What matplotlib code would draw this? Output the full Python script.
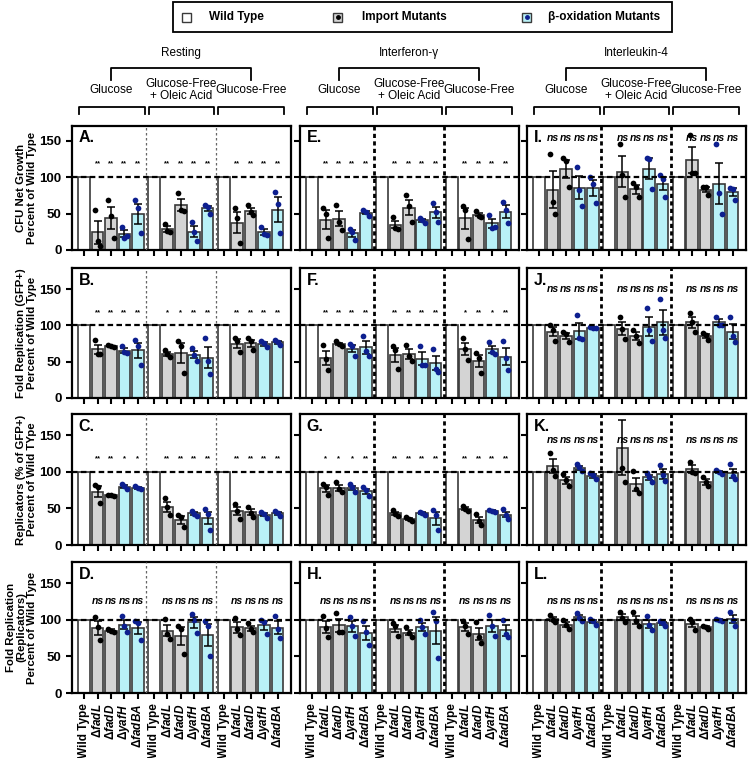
import numpy as np
import matplotlib.pyplot as plt
from matplotlib.patches import Rectangle
from matplotlib.lines import Line2D

plt.rcParams['font.family'] = ['Liberation Sans', 'DejaVu Sans']
plt.rcParams['mathtext.fontset'] = 'custom'
plt.rcParams['mathtext.rm'] = 'Liberation Sans:bold'
plt.rcParams['mathtext.it'] = 'Liberation Sans:italic:bold'
plt.rcParams['mathtext.bf'] = 'Liberation Sans:bold'

# ---- categories ----
activations = ['Resting', 'Interferon-γ', 'Interleukin-4']
media = ['Glucose', 'Glucose-Free\n+ Oleic Acid', 'Glucose-Free']
strain_labels = ['Wild Type', r'$\Delta\mathit{fadL}$', r'$\Delta\mathit{fadD}$',
                 r'$\Delta\mathit{yafH}$', r'$\Delta\mathit{fadBA}$']
row_titles = ['CFU Net Growth\nPercent of Wild Type',
              'Fold Replication (GFP+)\nPercent of Wild Type',
              'Replicators (% of GFP+)\nPercent of Wild TYpe',
              'Fold Replication\n(Replicators)\nPercent of Wild Type']
letters = [['A.', 'E.', 'I.'], ['B.', 'F.', 'J.'], ['C.', 'G.', 'K.'], ['D.', 'H.', 'L.']]
wt_value = 100

# ---- replicate values (% of wild type): [medium][fadL, fadD, yafH, fadBA][replicate] ----
cfu_rest = [[[55, 12, 6], [68, 46, 16], [32, 16, 19], [68, 57, 23]],
            [[36, 26, 24], [78, 55, 53], [39, 25, 12], [62, 59, 50]],
            [[58, 44, 10], [62, 52, 48], [32, 22, 20], [80, 63, 23]]]
cfu_ifng = [[[58, 50, 16], [62, 39, 28], [29, 25, 14], [55, 52, 47]],
            [[45, 30, 29], [75, 60, 39], [44, 41, 37], [65, 52, 39]],
            [[60, 55, 15], [53, 47, 45], [48, 30, 31], [66, 55, 37]]]
cfu_il4 = [[[132, 66, 50], [126, 122, 87], [114, 82, 60], [100, 90, 65]],
           [[146, 103, 73], [92, 86, 72], [126, 125, 84], [103, 97, 73]],
           [[158, 106, 106], [86, 86, 76], [145, 78, 50], [85, 84, 68]]]

gfp_rest = [[[80, 61, 60], [73, 71, 70], [71, 63, 62], [80, 72, 46]],
            [[66, 60, 56], [79, 72, 35], [69, 59, 51], [83, 51, 33]],
            [[83, 78, 64], [82, 78, 66], [78, 76, 70], [80, 77, 73]]]
gfp_ifng = [[[73, 54, 39], [78, 74, 71], [74, 72, 58], [86, 65, 58]],
            [[72, 66, 40], [73, 58, 51], [72, 46, 45], [67, 40, 36]],
            [[82, 68, 52], [62, 55, 35], [77, 64, 61], [78, 55, 38]]]
gfp_il4 = [[[101, 94, 79], [91, 88, 77], [114, 82, 81], [98, 97, 96]],
           [[111, 95, 81], [94, 86, 76], [124, 93, 78], [137, 93, 82]],
           [[117, 104, 91], [89, 87, 80], [112, 101, 100], [111, 85, 77]]]

rep_rest = [[[82, 79, 58], [69, 68, 67], [83, 80, 76], [81, 78, 76]],
            [[64, 52, 41], [41, 38, 24], [47, 43, 40], [49, 42, 21]],
            [[56, 47, 36], [52, 44, 38], [45, 42, 37], [46, 44, 40]]]
rep_ifng = [[[84, 79, 69], [86, 76, 73], [83, 79, 73], [79, 75, 67]],
            [[48, 42, 40], [38, 36, 33], [45, 44, 41], [48, 41, 20]],
            [[53, 49, 46], [42, 33, 28], [48, 47, 45], [49, 41, 35]]]
rep_il4 = [[[126, 103, 94], [97, 89, 80], [110, 106, 101], [99, 95, 90]],
           [[208, 105, 86], [101, 77, 71], [98, 93, 86], [109, 95, 87]],
           [[114, 100, 98], [93, 86, 80], [102, 100, 97], [110, 94, 90]]]

fold_rest = [[[104, 90, 72], [88, 85, 83], [105, 92, 83], [99, 95, 72]],
             [[101, 81, 74], [91, 88, 53], [108, 100, 82], [98, 91, 50]],
             [[103, 87, 79], [95, 88, 83], [100, 97, 80], [105, 87, 75]]]
fold_ifng = [[[105, 89, 76], [109, 84, 84], [104, 91, 78], [99, 83, 65]],
             [[95, 91, 78], [90, 82, 76], [100, 90, 81], [110, 98, 48]],
             [[98, 92, 80], [97, 76, 69], [106, 91, 78], [100, 80, 77]]]
fold_il4 = [[[106, 100, 97], [100, 93, 87], [109, 103, 99], [101, 99, 93]],
            [[111, 103, 97], [110, 98, 92], [105, 93, 86], [99, 95, 92]],
            [[101, 97, 86], [92, 90, 88], [101, 100, 99], [111, 100, 92]]]

# ---- significance vs wild type ----
NS = ['ns ns ns ns'] * 3
sig_cfu = [['** ** ** **'] * 3, ['** ** ** **'] * 3, NS]
sig_gfp = [['** ** ** **', '* * ** **', '** ** ** **'],
           ['** ** ** **', '** ** ** **', '* ** * **'], NS]
sig_rep = [['** ** * *', '** ** ** **', '** ** ** **'],
           ['* * * **', '** ** ** **', '** ** ** **'], NS]
sig_fold = [NS, NS, NS]

panels = [[cfu_rest, cfu_ifng, cfu_il4],
          [gfp_rest, gfp_ifng, gfp_il4],
          [rep_rest, rep_ifng, rep_il4],
          [fold_rest, fold_ifng, fold_il4]]
sigs = [sig_cfu, sig_gfp, sig_rep, sig_fold]

# ---- style ----
W, H = 750, 758
col_left = [72, 300, 527]
col_w = 219
row_top = [126, 268, 414, 562]
row_bot = [250, 398, 545, 693]
ymax = [170, 179, 179, 179]
ns_y = [[None, None, 153], [None, None, 150], [None, None, 143], [126, 126, 126]]
star_y = 118
gap = 5.2
bw = 0.86
c_wt, c_imp, c_box = 'white', '#d4d4d4', '#b9f1f7'
dot_imp, dot_box = 'black', '#0d1f8f'
edge = '#3a3a3a'
offs = np.array([-0.2, 0.0, 0.2])

fig = plt.figure(figsize=(7.5, 7.58), dpi=100)
top_axes = []

for r in range(4):
    for c in range(3):
        ax = fig.add_axes([col_left[c] / W, 1 - row_bot[r] / H, col_w / W,
                           (row_bot[r] - row_top[r]) / H])
        data = panels[r][c]
        xt = []
        for g in range(3):
            base = g * gap
            ax.bar(base, wt_value, width=bw, color=c_wt, edgecolor=edge, lw=1.2, zorder=2)
            xt.append(base)
            sig = sigs[r][c][g].split()
            for k in range(4):
                pts = np.array(data[g][k], dtype=float)
                m = pts.mean()
                se = pts.std(ddof=1) / np.sqrt(len(pts))
                x = base + k + 1
                xt.append(x)
                ax.bar(x, m, width=bw, color=c_imp if k < 2 else c_box,
                       edgecolor=edge, lw=1.2, zorder=2)
                ax.errorbar(x, m, yerr=se, fmt='none', ecolor='black', elinewidth=1.1,
                            capsize=3, capthick=1.1, zorder=3)
                ax.scatter(x + offs, pts, s=17, color=dot_imp if k < 2 else dot_box,
                           zorder=4, linewidths=0)
                if sig[k] == 'ns':
                    ax.text(x, ns_y[r][c], 'ns', ha='center', va='center', fontsize=7.5,
                            style='italic', fontweight='bold', zorder=6)
                else:
                    ax.text(x, star_y, sig[k], ha='center', va='center', fontsize=5.5,
                            fontweight='bold', zorder=6)
            if g > 0:
                if c == 0:
                    ax.axvline(base - 0.6, color='#666666', lw=0.9, ls=(0, (2, 2)), zorder=5)
                else:
                    ax.axvline(base - 0.6, color='black', lw=2.0, ls=(0, (1.5, 1.2)), zorder=5)
        ax.axhline(100, color='black', lw=1.6, ls=(0, (2.5, 1.5)), zorder=5)

        ax.set_xlim(-0.9, 15.4)
        ax.set_ylim(0, ymax[r])
        ax.set_yticks([0, 50, 100, 150])
        ax.set_xticks(xt)
        for s in ax.spines.values():
            s.set_linewidth(1.6)
        ax.tick_params(direction='out', length=4, width=1.5)
        if c == 0:
            ax.set_yticklabels(['0', '50', '100', '150'], fontsize=9.5, fontweight='bold')
            ax.set_ylabel(row_titles[r], fontsize=8.2, fontweight='bold', labelpad=2,
                          linespacing=1.05)
        else:
            ax.set_yticklabels([])
        if r == 3:
            ax.set_xticklabels(strain_labels * 3, rotation=90, fontsize=8.5,
                               fontweight='bold')
        else:
            ax.set_xticklabels([])
        ax.text(0.03, 0.965, letters[r][c], transform=ax.transAxes, fontsize=11.5,
                fontweight='bold', va='top', ha='left', zorder=7)
        if r == 0:
            top_axes.append(ax)

# ---- header brackets ----
inv = fig.transFigure.inverted()


def fx(ax, x):
    return inv.transform(ax.transData.transform((x, 0)))[0]


def fy(py):
    return 1 - py / H


def hline(x0, x1, y0, y1):
    fig.add_artist(Line2D([x0, x0, x1, x1], [fy(y1), fy(y0), fy(y0), fy(y1)],
                          color='black', lw=1.3, transform=fig.transFigure))


for c, ax in enumerate(top_axes):
    centers = [fx(ax, g * gap + 2) for g in range(3)]
    hline(centers[0], centers[2], 68, 80)
    fig.text(centers[1], fy(53), activations[c], ha='center', va='center', fontsize=8.5)
    for g in range(3):
        fig.text(centers[g], fy(90), media[g], ha='center', va='center', fontsize=8.5,
                 linespacing=1.0)
        hline(fx(ax, g * gap - 0.4), fx(ax, g * gap + 4.5), 107, 114)

# ---- legend ----
fig.add_artist(Rectangle((173 / W, fy(32)), (672 - 173) / W, 30 / H, fill=False,
                         edgecolor='black', lw=1.3, transform=fig.transFigure))
legend_items = [('Wild Type', c_wt, None), ('Import Mutants', c_imp, dot_imp),
                ('β-oxidation Mutants', c_box, dot_box)]
for (lab, fc, dc), sx, tx in zip(legend_items, [182, 333, 522], [209, 362, 548]):
    fig.add_artist(Rectangle((sx / W, fy(21.5)), 9 / W, 9 / H, facecolor=fc,
                             edgecolor=edge, lw=1.0, transform=fig.transFigure))
    if dc is not None:
        fig.add_artist(Line2D([(sx + 4.5) / W], [fy(17)], marker='o', markersize=2.5,
                              color=dc, lw=0, transform=fig.transFigure))
    fig.text(tx / W, fy(17), lab, ha='left', va='center', fontsize=8.5, fontweight='bold')

fig.savefig('out.png', dpi=100)
